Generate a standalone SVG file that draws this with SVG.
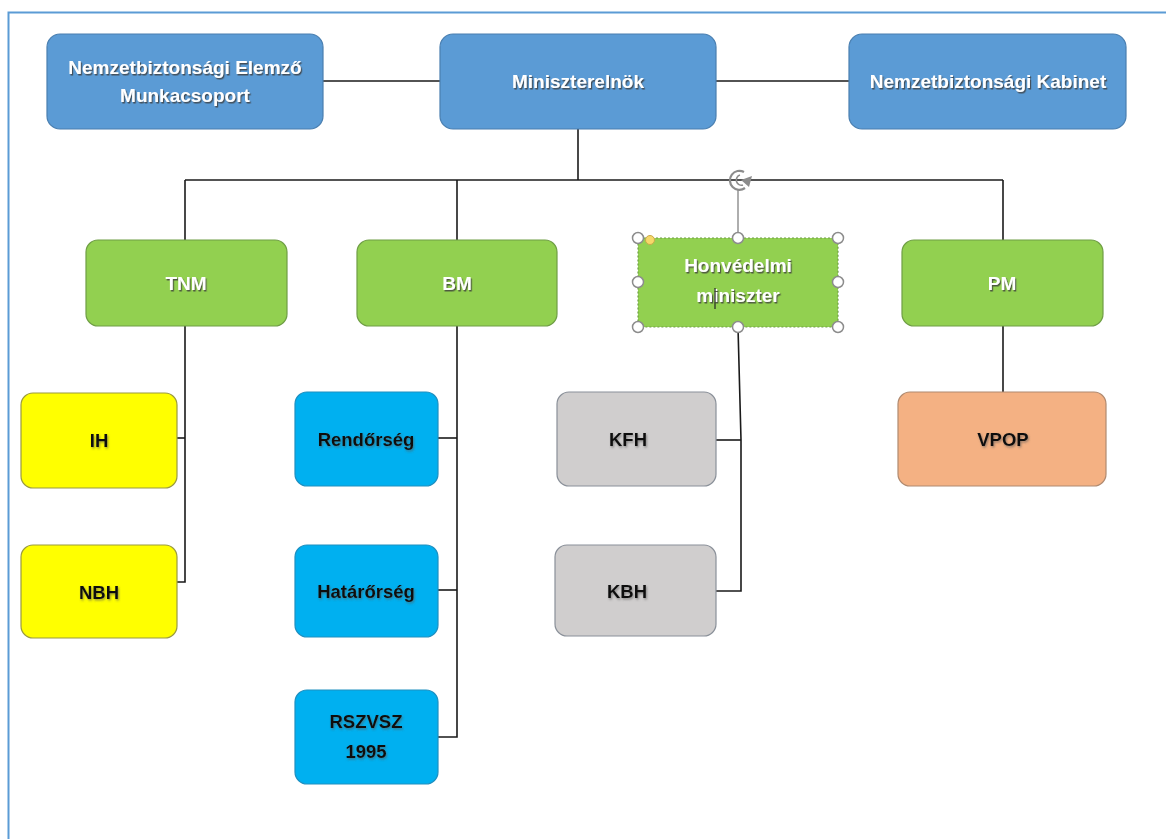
<svg xmlns="http://www.w3.org/2000/svg" width="1166" height="839" viewBox="0 0 1166 839">
<defs>
<filter id="ts" x="-10%" y="-20%" width="130%" height="160%">
<feDropShadow dx="1.2" dy="1.5" stdDeviation="0.6" flood-color="#3a3a3a" flood-opacity="0.8"/>
</filter>
<filter id="tsd" x="-10%" y="-20%" width="130%" height="160%">
<feDropShadow dx="1" dy="1.5" stdDeviation="0.8" flood-color="#555" flood-opacity="0.6"/>
</filter>
</defs>
<style>
.box{stroke-width:1.2}
.blue{fill:#5b9bd5;stroke:#4a7fb0}
.green{fill:#92d050;stroke:#6f9e45}
.yellow{fill:#ffff00;stroke:#9a9a40}
.cyan{fill:#00b0f0;stroke:#1e8fc0}
.gray{fill:#d0cece;stroke:#8a9099}
.orange{fill:#f4b183;stroke:#b08a70}
.wt{font-family:"Liberation Sans",Arial,sans-serif;font-weight:bold;font-size:19px;fill:#ffffff;text-anchor:middle;filter:url(#ts)}
.bt{font-family:"Liberation Sans",Arial,sans-serif;font-weight:bold;font-size:18.5px;fill:#111111;text-anchor:middle;filter:url(#tsd)}
.conn{fill:none;stroke:#1a1a1a;stroke-width:1.6}
.handle{fill:#ffffff;stroke:#8c8c8c;stroke-width:1.5}
</style>
<rect x="0" y="0" width="1166" height="839" fill="#ffffff"/>
<path d="M8.5 839 V12.5 H1166" fill="none" stroke="#5b9bd5" stroke-width="2"/>

<g id="connectors">
<path class="conn" d="M323 81 H440"/>
<path class="conn" d="M716 81 H849"/>
<path class="conn" d="M578 129 V180"/>
<path class="conn" d="M185 180 H1003"/>
<path class="conn" d="M185 180 V240"/>
<path class="conn" d="M457 180 V240"/>
<path class="conn" d="M1003 180 V240"/>
<path d="M738 190 V237" fill="none" stroke="#8c8c8c" stroke-width="1.4"/>
<path class="conn" d="M185 326 V582 H177"/>
<path class="conn" d="M185 438 H177"/>
<path class="conn" d="M457 326 V737 H438"/>
<path class="conn" d="M457 438 H438"/>
<path class="conn" d="M457 590 H438"/>
<path class="conn" d="M738 327 L741 440 V591 H716"/>
<path class="conn" d="M741 440 H716"/>
<path class="conn" d="M1003 326 V392"/>
</g>

<g id="node-nem">
<rect class="box blue" x="47" y="34" width="276" height="95" rx="13"/>
<text class="wt" x="185" y="74">Nemzetbiztonsági Elemző</text>
<text class="wt" x="185" y="102">Munkacsoport</text>
</g>
<g id="node-miniszterelnok">
<rect class="box blue" x="440" y="34" width="276" height="95" rx="13"/>
<text class="wt" x="578" y="88">Miniszterelnök</text>
</g>
<g id="node-kabinet">
<rect class="box blue" x="849" y="34" width="277" height="95" rx="13"/>
<text class="wt" x="988" y="88">Nemzetbiztonsági Kabinet</text>
</g>

<g id="node-tnm">
<rect class="box green" x="86" y="240" width="201" height="86" rx="12"/>
<text class="wt" x="186" y="290">TNM</text>
</g>
<g id="node-bm">
<rect class="box green" x="357" y="240" width="200" height="86" rx="12"/>
<text class="wt" x="457" y="290">BM</text>
</g>
<g id="node-honved">
<rect class="box green" x="638" y="238" width="200" height="89" rx="6" stroke-dasharray="2 2"/>
<text class="wt" x="738" y="272">Honvédelmi</text>
<text class="wt" x="738" y="302">miniszter</text>
<path d="M715 288 V309" stroke="#222" stroke-width="1.2"/>
<g id="selection-handles">
<circle class="handle" cx="638" cy="238" r="5.5"/>
<circle class="handle" cx="738" cy="238" r="5.5"/>
<circle class="handle" cx="838" cy="238" r="5.5"/>
<circle class="handle" cx="638" cy="282" r="5.5"/>
<circle class="handle" cx="838" cy="282" r="5.5"/>
<circle class="handle" cx="638" cy="327" r="5.5"/>
<circle class="handle" cx="738" cy="327" r="5.5"/>
<circle class="handle" cx="838" cy="327" r="5.5"/>
<circle cx="650" cy="240" r="4.5" fill="#f7d86a" stroke="#c9a94a" stroke-width="1"/>
<path d="M744 172 A9.5 9.5 0 1 0 745 188" fill="none" stroke="#8c8c8c" stroke-width="2.2"/>
<path d="M740 175 A5 5 0 1 0 743 185" fill="none" stroke="#8c8c8c" stroke-width="1.6"/>
<path d="M741 180 L752 176 L749 187 Z" fill="#8c8c8c"/>
</g>
</g>
<g id="node-pm">
<rect class="box green" x="902" y="240" width="201" height="86" rx="12"/>
<text class="wt" x="1002" y="290">PM</text>
</g>

<g id="node-ih">
<rect class="box yellow" x="21" y="393" width="156" height="95" rx="12"/>
<text class="bt" x="99" y="447">IH</text>
</g>
<g id="node-nbh">
<rect class="box yellow" x="21" y="545" width="156" height="93" rx="12"/>
<text class="bt" x="99" y="599">NBH</text>
</g>
<g id="node-rendorseg">
<rect class="box cyan" x="295" y="392" width="143" height="94" rx="12"/>
<text class="bt" x="366" y="446">Rendőrség</text>
</g>
<g id="node-hatarorseg">
<rect class="box cyan" x="295" y="545" width="143" height="92" rx="12"/>
<text class="bt" x="366" y="598">Határőrség</text>
</g>
<g id="node-rszvsz">
<rect class="box cyan" x="295" y="690" width="143" height="94" rx="12"/>
<text class="bt" x="366" y="728">RSZVSZ</text>
<text class="bt" x="366" y="758">1995</text>
</g>
<g id="node-kfh">
<rect class="box gray" x="557" y="392" width="159" height="94" rx="12"/>
<text class="bt" x="628" y="446">KFH</text>
</g>
<g id="node-kbh">
<rect class="box gray" x="555" y="545" width="161" height="91" rx="12"/>
<text class="bt" x="627" y="598">KBH</text>
</g>
<g id="node-vpop">
<rect class="box orange" x="898" y="392" width="208" height="94" rx="12"/>
<text class="bt" x="1003" y="446">VPOP</text>
</g>
</svg>
